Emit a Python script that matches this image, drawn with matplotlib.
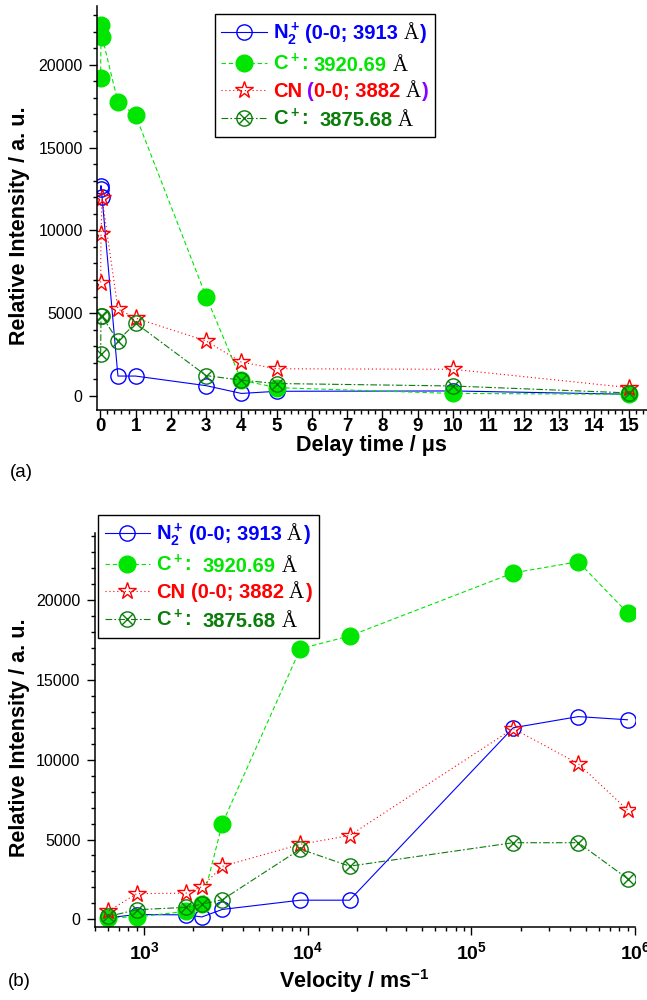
import matplotlib
matplotlib.use('Agg')
import matplotlib.pyplot as plt
from matplotlib.path import Path
from matplotlib.lines import Line2D
from matplotlib.ticker import MultipleLocator
from matplotlib.offsetbox import AnchoredOffsetbox, HPacker, VPacker, TextArea, DrawingArea

plt.rcParams['font.family'] = ['Liberation Sans', 'DejaVu Sans']
plt.rcParams['mathtext.default'] = 'regular'

# delay after the pulse (us) and the matching plume velocity (m/s)
delay = [0.01, 0.02, 0.05, 0.5, 1, 3, 4, 5, 10, 15]
velocity = [900000, 450000, 180000, 18000, 9000, 3000, 2250, 1800, 900, 600]

# line intensities, same order as delay
n2_3913 = [12500, 12700, 12000, 1200, 1200, 620, 150, 280, 300, 100]
c_3920 = [19200, 22400, 21700, 17750, 16950, 6000, 950, 500, 150, 100]
cn_3882 = [6850, 9750, 11950, 5250, 4700, 3320, 2040, 1640, 1610, 500]
c_3875 = [2550, 4800, 4800, 3330, 4400, 1230, 950, 750, 600, 180]

delay_ticks = list(range(0, 16))
intensity_ticks = [0, 5000, 10000, 15000, 20000]
velocity_ticks = [1e3, 1e4, 1e5, 1e6]
velocity_labels = ['$10^{3}$', '$10^{4}$', '$10^{5}$', '$10^{6}$']

BLUE = '#0000ff'
LIME = '#00e600'
RED = '#ff0000'
DKGREEN = '#0a7d0a'
VIOLET = '#8a00ff'

# open circle with an X through it
crossed = Path.make_compound_path(
    Path.unit_circle(),
    Path([(-0.707, -0.707), (0.707, 0.707), (-0.707, 0.707), (0.707, -0.707)],
         [Path.MOVETO, Path.LINETO, Path.MOVETO, Path.LINETO]))

series = [n2_3913, c_3920, cn_3882, c_3875]
styles = [
    dict(color=BLUE, ls='-', marker='o', mfc='none', ms=11),
    dict(color=LIME, ls=(0, (4, 2.5)), marker='o', mfc=LIME, ms=12),
    dict(color=RED, ls=(0, (1, 2.5)), marker='*', mfc='none', ms=13),
    dict(color=DKGREEN, ls=(0, (6, 2, 1.5, 2)), marker=crossed, mfc='none', ms=11),
]

fig = plt.figure(figsize=(6.47, 10), dpi=100)
ax1 = fig.add_axes([97.3 / 647, 1 - 410 / 1000, 549.7 / 647, 404 / 1000])
ax2 = fig.add_axes([95 / 647, 1 - 927 / 1000, 540 / 647, 394 / 1000])

for ax, x in ((ax1, delay), (ax2, velocity)):
    for y, st in zip(series, styles):
        ax.plot(x, y, lw=0.8, mew=1.0, **st)
    ax.spines[['top', 'right']].set_visible(False)
    ax.spines[['left', 'bottom']].set_linewidth(1.1)
    ax.tick_params(which='major', direction='out', length=5.5, width=1.0)
    ax.tick_params(which='minor', direction='out', length=3, width=1.0)
    ax.tick_params(axis='y', labelsize=11.5, pad=5)
    ax.set_yticks(intensity_ticks)
    ax.yaxis.set_minor_locator(MultipleLocator(1000))

ax1.set_xlim(-0.085, 15.5)
ax1.set_ylim(-850, 23550)
ax1.set_xticks(delay_ticks, [str(d) for d in delay_ticks], fontweight='bold', fontsize=13.5)
ax1.xaxis.set_minor_locator(MultipleLocator(0.2))
ax1.tick_params(axis='x', pad=0)

ax2.set_xscale('log')
ax2.set_xlim(500, 1e6)
ax2.set_ylim(-480, 24200)
ax2.set_xticks(velocity_ticks, velocity_labels, fontweight='bold', fontsize=14)
ax2.tick_params(axis='x', pad=5)

# axis titles and panel tags
lab = dict(fontsize=15.5, fontweight='bold')
fig.text(20 / 647, 1 - 226 / 1000, 'Relative Intensity / a. u.', rotation=90,
         ha='center', va='center', **lab)
fig.text(20 / 647, 1 - 738 / 1000, 'Relative Intensity / a. u.', rotation=90,
         ha='center', va='center', **lab)
fig.text(371 / 647, 1 - 451 / 1000, 'Delay time / μs', ha='center', va='baseline', **lab)
fig.text(354 / 647, 1 - 988 / 1000, 'Velocity / ms$^{-1}$', ha='center', va='baseline', **lab)
fig.text(10 / 647, 1 - 477 / 1000, '(a)', fontsize=13.5, va='baseline')
fig.text(8 / 647, 1 - 986 / 1000, '(b)', fontsize=13.5, va='baseline')


def piece(s, color, serif=False):
    if serif:
        props = dict(color='black', fontsize=15, family='Liberation Serif')
    else:
        props = dict(color=color, fontsize=14.5, fontweight='bold')
    return TextArea(s, textprops=props)


def gap(w):
    return DrawingArea(w, 1, 0, 0)


def legend_box(rows, corner):
    packed = []
    for st, parts in zip(styles, rows):
        da = DrawingArea(33, 14, 0, 3)
        da.add_artist(Line2D([0, 33], [5.2, 5.2], color=st['color'], ls=st['ls'], lw=0.8))
        da.add_artist(Line2D([16.5], [5.2], color=st['color'], marker=st['marker'],
                             mfc=st['mfc'], ms=st['ms'], mew=1.0, ls='none'))
        packed.append(HPacker(children=[da, gap(4)] + parts, sep=0, pad=0, align='baseline'))
    box = AnchoredOffsetbox(loc='upper left', child=VPacker(children=packed, sep=4.5, pad=0, align='left'),
                            pad=0.45, borderpad=0, frameon=True, prop=dict(size=10),
                            bbox_to_anchor=corner, bbox_transform=fig.transFigure)
    box.patch.set_edgecolor('black')
    box.patch.set_linewidth(1.0)
    box.patch.set_boxstyle('square', pad=0)
    box.set_zorder(5)
    fig.add_artist(box)


legend_box([
    [piece('N$_2^+$', BLUE), gap(4), piece('(0-0; 3913', BLUE), gap(4), piece('Å', None, True),
     gap(1), piece(')', BLUE)],
    [piece('C$^+$:', LIME), gap(4), piece('3920.69', LIME), gap(4), piece('Å', None, True)],
    [piece('CN', RED), gap(4), piece('(', VIOLET), piece('0-0; 3882', RED), gap(4),
     piece('Å', None, True), gap(1), piece(')', VIOLET)],
    [piece('C$^+$:', DKGREEN), gap(8), piece('3875.68', DKGREEN), gap(4), piece('Å', None, True)],
], (215 / 647, 1 - 14 / 1000))

legend_box([
    [piece('N$_2^+$', BLUE), gap(4), piece('(0-0; 3913', BLUE), gap(4), piece('Å', None, True),
     gap(1), piece(')', BLUE)],
    [piece('C$^+$:', LIME), gap(8), piece('3920.69', LIME), gap(4), piece('Å', None, True)],
    [piece('CN', RED), gap(4), piece('(0-0; 3882', RED), gap(4), piece('Å', None, True),
     gap(1), piece(')', RED)],
    [piece('C$^+$:', DKGREEN), gap(8), piece('3875.68', DKGREEN), gap(4), piece('Å', None, True)],
], (98.3 / 647, 1 - 515 / 1000))

fig.savefig('out.png', dpi=100)
